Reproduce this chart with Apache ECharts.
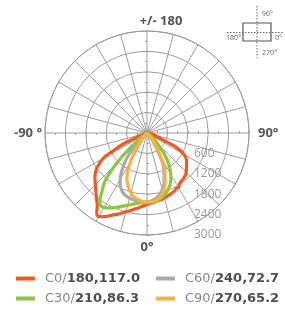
<!DOCTYPE html>
<html>
<head>
<meta charset="utf-8">
<script src="https://cdn.jsdelivr.net/npm/echarts@6/dist/echarts.min.js"></script>
<style>
html, body { margin: 0; padding: 0; background: #fff; }
#main { width: 285px; height: 310px; }
</style>
</head>
<body>
<div id="main"></div>
<script>
// legend / series labels (name/bold part split at '/')
var seriesNames = ['C0/180,117.0', 'C30/210,86.3', 'C60/240,72.7', 'C90/270,65.2'];
var seriesColors = ['#f15a24', '#8dc63f', '#a7a9ac', '#fbb040'];

// radius scale (cd) and angle labels
var radiusMax = 3000;
var radiusStep = 600;
var angleLabels = { '-180': '{t|+/- 180}', '-90': '{l|-90 °}', '0': '{b|0°}', '90': '{r|90°}' };

// C0 / C180 (negative angles = C180 half)
var c0Angles = [-90, -75, -67, -65, -62, -60, -57, -55, -52, -49, -45, -41, -37.5, -34.5, -32, -29.5, -27, -24, -20, -16.5, -12, -8, -4, 0,
  8, 13, 18, 24, 28, 30.5, 33, 37, 43, 49, 55, 60, 64, 66, 70, 80, 90];
var c0Values = [0, 100, 300, 800, 1150, 1480, 1680, 1810, 1930, 2030, 2150, 2290, 2440, 2580, 2790, 2830, 2760, 2660, 2540, 2440, 2330, 2240, 2170, 2100,
  2030, 2000, 1950, 1900, 1850, 1840, 1760, 1730, 1670, 1540, 1420, 1260, 950, 600, 300, 150, 0];

// C30 / C210
var c30Angles = [-90, -55, -49, -47, -44, -41, -37.5, -34.5, -31.5, -26, -18, -8, 0,
  8, 14, 20, 27, 33, 39, 43, 48, 58, 70, 90];
var c30Values = [0, 200, 540, 950, 1440, 1890, 2180, 2450, 2545, 2450, 2260, 2090, 2040,
  2020, 1930, 1790, 1550, 1240, 840, 500, 300, 100, 30, 0];

// C60 / C240
var c60Angles = [-90, -50, -43, -39, -33.5, -29, -23, -16, -7, 0, 7, 13, 19, 25, 30, 36, 45, 90];
var c60Values = [0, 150, 500, 930, 1350, 1640, 1870, 1975, 2020, 2030, 1960, 1800, 1540, 1160, 720, 290, 60, 0];

// C90 / C270
var c90Angles = [-90, -45, -39, -32, -27, -24, -21, -17, -13, -8, -3, 0, 7, 13, 19, 25, 30.5, 36, 45, 90];
var c90Values = [0, 80, 330, 770, 1250, 1450, 1600, 1760, 1880, 1970, 2025, 2035, 2010, 1880, 1620, 1250, 760, 320, 80, 0];

function pairs(angles, values) {
  return values.map(function (v, i) { return [v, angles[i]]; });
}

var chart = echarts.init(document.getElementById('main'));
var center = [147, 133];
var radius = 102;
var grid = '#9d9d9d';

var polars = [], angleAxes = [], radiusAxes = [];

// main polar: grid, spokes every 15 deg, angle labels
polars.push({ center: center, radius: radius });
angleAxes.push({
  polarIndex: 0, type: 'value', min: -180, max: 180, interval: 15,
  startAngle: 90, clockwise: false,
  axisLine: { show: true, lineStyle: { color: grid, width: 1 } },
  axisTick: { show: false },
  splitLine: { show: true, lineStyle: { color: grid, width: 1 } },
  axisLabel: {
    show: true, margin: 3,
    formatter: function (v) { return angleLabels[String(v)] || ''; },
    fontFamily: 'Open Sans', fontWeight: 'bold', fontSize: 13, color: '#555',
    rich: {
      t: { fontFamily: 'Open Sans', fontWeight: 'bold', fontSize: 13, color: '#555', padding: [0, 0, 0, 28] },
      l: { fontFamily: 'Open Sans', fontWeight: 'bold', fontSize: 13, color: '#555' },
      r: { fontFamily: 'Open Sans', fontWeight: 'bold', fontSize: 13, color: '#555', padding: [0, 0, 0, 6] },
      b: { fontFamily: 'Open Sans', fontWeight: 'bold', fontSize: 13, color: '#555', padding: [3, 0, 0, 0] }
    }
  }
});
radiusAxes.push({
  polarIndex: 0, type: 'value', min: 0, max: radiusMax, interval: radiusStep,
  axisLine: { show: false }, axisTick: { show: false }, axisLabel: { show: false },
  splitLine: { show: true, lineStyle: { color: grid, width: 1 } }
});

// radius value labels, along the downward axis
polars.push({ center: center, radius: radius });
angleAxes.push({ polarIndex: 1, type: 'value', min: -180, max: 180, startAngle: 270, clockwise: false, show: false });
radiusAxes.push({
  polarIndex: 1, type: 'value', min: 0, max: radiusMax, interval: radiusStep,
  axisLine: { show: false }, axisTick: { show: false }, splitLine: { show: false },
  axisLabel: {
    show: true, margin: 47, align: 'left',
    formatter: function (v) { return v === 0 ? '' : String(v); },
    fontFamily: 'Open Sans', fontSize: 12, color: '#999'
  }
});

// small cross ticks on the four main axes
[90, 270, 0, 180].forEach(function (sa) {
  [true, false].forEach(function (inside) {
    var i = polars.length;
    polars.push({ center: center, radius: radius });
    angleAxes.push({ polarIndex: i, type: 'value', min: -180, max: 180, startAngle: sa, clockwise: false, show: false });
    radiusAxes.push({
      polarIndex: i, type: 'value', min: 0, max: radiusMax, interval: radiusStep / 2,
      axisLine: { show: false }, axisLabel: { show: false }, splitLine: { show: false },
      axisTick: { show: true, inside: inside, length: 2, lineStyle: { color: grid, width: 1 } }
    });
  });
});

var curves = [
  { name: seriesNames[0], color: seriesColors[0], data: pairs(c0Angles, c0Values), z: 3 },
  { name: seriesNames[2], color: seriesColors[2], data: pairs(c60Angles, c60Values), z: 4 },
  { name: seriesNames[1], color: seriesColors[1], data: pairs(c30Angles, c30Values), z: 5 },
  { name: seriesNames[3], color: seriesColors[3], data: pairs(c90Angles, c90Values), z: 6 }
];

var series = curves.map(function (c) {
  return {
    name: c.name, type: 'line', coordinateSystem: 'polar', polarIndex: 0,
    smooth: 0.4, showSymbol: false, z: c.z, animation: false,
    itemStyle: { color: c.color },
    lineStyle: { color: c.color, width: 3.2 },
    data: c.data
  };
});

var legendText = {
  rich: {
    a: { fontFamily: 'DejaVu Sans', fontSize: 13, color: '#888', padding: [0, 0, 0, 5] },
    b: { fontFamily: 'DejaVu Sans', fontSize: 13, fontWeight: 'bold', color: '#4d4d4d' }
  }
};
function legendFormat(name) {
  var p = name.split('/');
  return '{a|' + p[0] + '/}{b|' + p[1] + '}';
}
function makeLegend(left, names) {
  return {
    left: left, top: 267, orient: 'vertical', itemGap: 7,
    itemWidth: 19, itemHeight: 4, icon: 'rect',
    selectedMode: false, data: names,
    formatter: legendFormat, textStyle: legendText
  };
}

var insetText = { fontFamily: 'Open Sans', fontSize: 7, fill: '#666' };

var option = {
  animation: false,
  polar: polars,
  angleAxis: angleAxes,
  radiusAxis: radiusAxes,
  legend: [
    makeLegend(11, [seriesNames[0], seriesNames[1]]),
    makeLegend(151, [seriesNames[2], seriesNames[3]])
  ],
  graphic: [
    { type: 'rect', shape: { x: 243, y: 23, width: 28, height: 18 }, style: { fill: 'none', stroke: '#555', lineWidth: 1.2 } },
    { type: 'line', shape: { x1: 257, y1: 6, x2: 257, y2: 58 }, style: { stroke: '#666', lineWidth: 1, lineDash: [1.5, 1.5] } },
    { type: 'line', shape: { x1: 227, y1: 32.5, x2: 283, y2: 32.5 }, style: { stroke: '#666', lineWidth: 1, lineDash: [1.5, 1.5] } },
    { type: 'text', x: 262, y: 14, style: Object.assign({ text: '90°', align: 'left', verticalAlign: 'middle' }, insetText) },
    { type: 'text', x: 241, y: 37.5, style: Object.assign({ text: '180°', align: 'right', verticalAlign: 'middle' }, insetText) },
    { type: 'text', x: 275, y: 37.5, style: Object.assign({ text: '0°', align: 'left', verticalAlign: 'middle' }, insetText) },
    { type: 'text', x: 262, y: 53, style: Object.assign({ text: '270°', align: 'left', verticalAlign: 'middle' }, insetText) }
  ],
  series: series
};

chart.setOption(option);
</script>
</body>
</html>
